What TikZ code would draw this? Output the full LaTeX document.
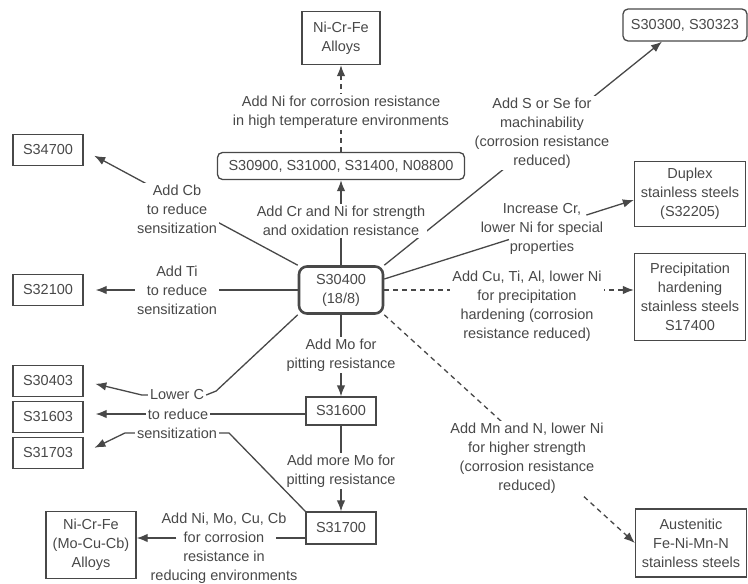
\documentclass[tikz,border=0pt]{standalone}
\usepackage{fontspec}
\setmainfont{Liberation Sans}
\usepackage{xcolor}
\usetikzlibrary{shapes,arrows.meta}
\definecolor{ink}{RGB}{72,72,72}

\begin{document}
\begin{tikzpicture}[x=1pt, y=-1pt, color=ink, line width=1.3pt,
    font=\fontsize{14.5}{19}\selectfont]

    \tikzstyle{box} = [
        rectangle,
        draw,
        align=center,
        inner sep=2pt,
        minimum width=70pt,
        minimum height=31pt,
    ]
    \tikzstyle{rbox} = [
        box,
        rounded corners=5pt,
    ]
    \tikzstyle{hub} = [
        box,
        rounded corners=8pt,
        line width=2.6pt,
        minimum width=84pt,
        minimum height=47pt,
    ]
    \tikzstyle{lbl} = [
        align=center,
        fill=white,
        inner sep=2pt,
    ]
    \tikzstyle{tag} = [
        align=center,
        inner sep=1.5pt,
    ]
    \tikzstyle{line} = [
        draw,
        -{Latex[length=11pt,width=8.5pt]},
    ]
    \tikzstyle{dline} = [
        line,
        dash pattern=on 5pt off 4pt,
    ]
    \tikzstyle{lline} = [
        line,
        shorten >=12pt,
    ]

    \useasboundingbox (0,0) rectangle (748,584);

    % grades and families
    \node [hub]                                        (s30400)   at (341,290) {S30400\\(18/8)};
    \node [box, minimum width=78pt, minimum height=53pt]  (nicrfe)   at (341,38)  {Ni-Cr-Fe\\Alloys};
    \node [rbox, minimum width=247pt, minimum height=27pt] (s30900)  at (341,166) {S30900, S31000, S31400, N08800};
    \node [rbox, minimum width=124pt, minimum height=32pt] (s30300)  at (685,25)  {S30300, S30323};
    \node [box, minimum width=111pt, minimum height=65pt] (duplex)   at (690,194) {Duplex\\stainless steels\\(S32205)};
    \node [box, minimum width=111pt, minimum height=87pt] (precip)   at (690,297) {Precipitation\\hardening\\stainless steels\\S17400};
    \node [box, minimum width=111pt, minimum height=68pt] (austen)   at (691,543) {Austenitic\\Fe-Ni-Mn-N\\stainless steels};
    \node [box]                                        (s34700)   at (48,150)  {S34700};
    \node [box]                                        (s32100)   at (48,290)  {S32100};
    \node [box]                                        (s30403)   at (48,381)  {S30403};
    \node [box]                                        (s31603)   at (48,417)  {S31603};
    \node [box]                                        (s31703)   at (48,453)  {S31703};
    \node [box, minimum height=28pt]                   (s31600)   at (341,411) {S31600};
    \node [box, minimum height=32pt]                   (s31700)   at (341,528) {S31700};
    \node [box, minimum width=90pt, minimum height=67pt]  (nicrfemo) at (91,545)  {Ni-Cr-Fe\\(Mo-Cu-Cb)\\Alloys};

    % lower C, one node per line
    \node [tag] (lowC1) at (177,395) {Lower C};
    \node [tag] (lowC2) at (178,414) {to reduce};
    \node [tag] (lowC3) at (177,433) {sensitization};

    % connectors
    \path [dline] (s30900) -- (nicrfe);
    \path [line]  (s30400) -- (s30900);
    \path [lline] (s30400.north west) -- (s34700.east);
    \path [lline] (s30400) -- (s32100);
    \path [line]  (s30400.north east) -- ([xshift=-23pt]s30300.south);
    \path [draw, shorten >=131pt] ([yshift=11pt]s30400.east) -- ([yshift=-6pt]duplex.west);
    \path [line, shorten <=212pt] ([yshift=11pt]s30400.east) -- ([yshift=-6pt]duplex.west);
    \path [dline] (s30400.east) -- (s30400.east -| precip.west);
    \path [dline] (s30400.south east) -- (austen.west);
    \path [line]  (s30400) -- (s31600);
    \path [line]  (s31600) -- (s31700);

    \path [draw]  (s30400.south west) -- ([xshift=10pt,yshift=4pt]lowC1.east) -- (lowC1.east);
    \path [lline] (lowC1.west) -- ([xshift=-6pt]lowC1.west) -- (s30403.east);
    \path [lline] (lowC2.west) -- (lowC2.west -| s31603.east);
    \path [draw]  (lowC2.east) -- (lowC2.east -| s31600.west);
    \path [lline] (lowC3.west) -- ([xshift=-10pt]lowC3.west) -- (s31703.east);
    \path [draw]  (lowC3.east) -- ([xshift=10pt]lowC3.east) -- (s31700.north west);

    \path [draw, shorten >=139pt] ([yshift=-10pt]s31700.west) -- ([yshift=-10pt]s31700.west -| nicrfemo.east);
    \path [line, shorten <=129pt] ([yshift=-10pt]s31700.west) -- ([yshift=-10pt]s31700.west -| nicrfemo.east);

    % labels on the connectors
    \node [lbl] (lblHiT)  at (341,112) {Add Ni for corrosion resistance\\in high temperature environments};
    \node [lbl] (lblCrNi) at (341,221) {Add Cr and Ni for strength\\and oxidation resistance};
    \node [lbl] (lblCb)   at (177,209) {Add Cb\\to reduce\\sensitization};
    \node [lbl] (lblTi)   at (177,290) {Add Ti\\to reduce\\sensitization};
    \node [lbl] (lblSe)   at (542,133) {Add S or Se for\\machinability\\(corrosion resistance\\reduced)};
    \node [tag] (lblDup)  at (542,229) {Increase Cr,\\lower Ni for special\\properties};
    \node [lbl] (lblPH)   at (527,306) {Add Cu, Ti, Al, lower Ni\\for precipitation\\hardening (corrosion\\resistance reduced)};
    \node [lbl] (lblMn)   at (527,458) {Add Mn and N, lower Ni\\for higher strength\\(corrosion resistance\\reduced)};
    \node [lbl] (lblMo)   at (341,355) {Add Mo for\\pitting resistance};
    \node [lbl] (lblMo2)  at (341,471) {Add more Mo for\\pitting resistance};
    \node [tag] (lblNiMo) at (224,548) {Add Ni, Mo, Cu, Cb\\for corrosion\\resistance in\\reducing environments};

\end{tikzpicture}
\end{document}
